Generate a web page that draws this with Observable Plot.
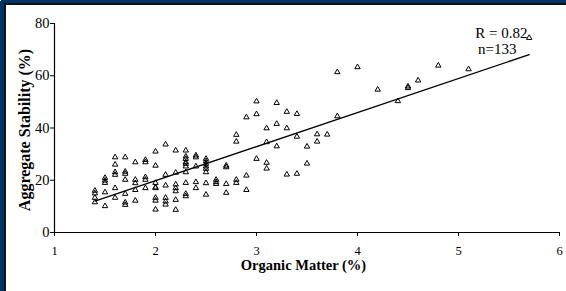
<!DOCTYPE html>
<html><head><meta charset="utf-8">
<script src="https://cdn.jsdelivr.net/npm/d3@7"></script>
<script src="https://cdn.jsdelivr.net/npm/@observablehq/plot@0.6"></script>
<style>
html,body{margin:0;padding:0;background:#fff;overflow:hidden;width:566px;height:291px;}
#wrap{position:absolute;left:0;top:0;width:566px;height:291px;overflow:hidden;background:#fff;}
.b{position:absolute;}
</style></head><body>
<div id="wrap">
 <div class="b" style="left:0;top:0;width:566px;height:3px;background:#003366"></div>
 <div class="b" style="left:0;top:0;width:4px;height:291px;background:#003366"></div>
 <div class="b" style="left:4px;top:3px;width:562px;height:2px;background:#111"></div>
 <div class="b" style="left:4px;top:3px;width:2px;height:288px;background:#111"></div>
 <div class="b" style="left:0;top:0;width:1px;height:1px;background:#fff"></div>
 <div id="chart" class="b" style="left:0;top:0;width:566px;height:291px"></div>
</div>
<script>
const organicMatter = [
  1.4,1.4,1.4,1.4,
  1.5,1.5,1.5,1.5,1.5,
  1.6,1.6,1.6,1.6,1.6,1.6,
  1.7,1.7,1.7,1.7,1.7,1.7,1.7,
  1.8,1.8,1.8,1.8,1.8,
  1.9,1.9,1.9,1.9,1.9,
  2.0,2.0,2.0,2.0,2.0,2.0,2.0,2.0,
  2.1,2.1,2.1,2.1,2.1,2.1,
  2.2,2.2,2.2,2.2,2.2,2.2,2.2,
  2.3,2.3,2.3,2.3,2.3,2.3,2.3,2.3,2.3,2.3,
  2.4,2.4,2.4,2.4,2.4,
  2.5,2.5,2.5,2.5,2.5,2.5,2.5,2.5,
  2.6,2.6,2.6,
  2.7,2.7,2.7,2.7,
  2.8,2.8,2.8,2.8,
  2.9,2.9,2.9,
  3.0,3.0,3.0,
  3.1,3.1,3.1,3.1,
  3.2,3.2,3.2,
  3.3,3.3,3.3,
  3.4,3.4,3.4,
  3.5,3.5,
  3.6,3.6,
  3.7,
  3.8,3.8,
  4.0,
  4.2,
  4.4,
  4.5,4.5,
  4.6,
  4.8,
  5.1,
  5.7
];
const aggregateStability = [
  16.0,15.0,13.3,11.6,
  20.9,19.9,19.0,15.4,10.1,
  28.8,26.0,23.1,22.1,17.0,13.3,
  28.8,23.3,22.5,20.2,14.8,11.5,10.6,
  26.9,20.2,18.9,16.3,12.2,
  27.8,26.9,21.2,20.2,17.0,
  31.0,25.6,19.0,17.3,17.0,13.3,12.2,8.8,
  33.7,22.1,18.0,13.3,11.9,10.7,
  31.4,22.9,18.4,17.0,15.8,12.5,8.7,
  31.4,29.1,28.2,26.9,26.3,25.3,23.1,19.0,14.8,13.9,
  29.5,28.8,25.3,19.3,17.0,
  28.2,27.3,26.3,25.3,24.4,23.1,18.9,14.5,
  20.2,19.3,18.6,
  25.6,25.0,18.6,15.2,
  37.4,34.8,20.2,19.0,
  44.1,21.8,16.3,
  50.2,45.3,28.2,
  39.9,34.6,26.7,24.5,
  49.6,41.6,33.0,
  46.2,39.9,22.2,
  45.4,36.7,22.5,
  32.9,26.4,
  37.6,34.8,
  37.5,
  61.4,44.5,
  63.3,
  54.7,
  50.3,
  55.9,55.3,
  58.2,
  63.9,
  62.5,
  74.5
];
const fitX = [1.4, 5.7];
const fitY = [12.0, 68.1];
const xTicks = [1, 2, 3, 4, 5, 6];
const yTicks = [0, 20, 40, 60, 80];
const xLabel = "Organic Matter (%)";
const yLabel = "Aggregate Stability (%)";
const rText = "R = 0.82";
const nText = "n=133";

const points = organicMatter.map((x, i) => ({x, y: aggregateStability[i]}));
const fit = fitX.map((x, i) => ({x, y: fitY[i]}));

const chart = Plot.plot({
  width: 566, height: 291,
  marginLeft: 54, marginRight: 7, marginTop: 23, marginBottom: 59,
  style: {background: "transparent", fontFamily: "'Liberation Serif','Times New Roman',serif", color: "#000"},
  x: {domain: [1, 6]},
  y: {domain: [0, 80]},
  marks: [
    Plot.axisX({ticks: xTicks, tickFormat: d3.format("d"), tickSize: 4, tickPadding: 10, fontSize: 12.5, label: null, color: "#000"}),
    Plot.axisY({ticks: yTicks, tickFormat: d3.format("d"), tickSize: 4, tickPadding: 1, fontSize: 14.5, label: null, color: "#000"}),
    Plot.ruleY([0], {stroke: "#000", strokeWidth: 1.2}),
    Plot.ruleX([1], {stroke: "#000", strokeWidth: 1.2}),
    Plot.line(fit, {x: "x", y: "y", stroke: "#000", strokeWidth: 1.3}),
    Plot.dot(points, {x: "x", y: "y", symbol: "triangle", r: 2, stroke: "#000", fill: "none", strokeWidth: 1}),
    Plot.text([yLabel], {text: d => d, frameAnchor: "left", rotate: -90, dx: -30, dy: 2, fontSize: 16, fontWeight: "bold", textAnchor: "middle", lineAnchor: "middle", fill: "#000"}),
    Plot.text([xLabel], {text: d => d, frameAnchor: "bottom", dx: -3.5, dy: 33, fontSize: 14.5, fontWeight: "bold", lineAnchor: "middle", fill: "#000"}),
    Plot.text([rText], {text: d => d, frameAnchor: "top-right", textAnchor: "end", dx: -32, dy: 9.5, fontSize: 15, lineAnchor: "middle", fill: "#000"}),
    Plot.text([nText], {text: d => d, frameAnchor: "top-right", textAnchor: "end", dx: -43, dy: 25.5, fontSize: 15, lineAnchor: "middle", fill: "#000"})
  ]
});
document.getElementById("chart").appendChild(chart);
</script>
</body></html>
